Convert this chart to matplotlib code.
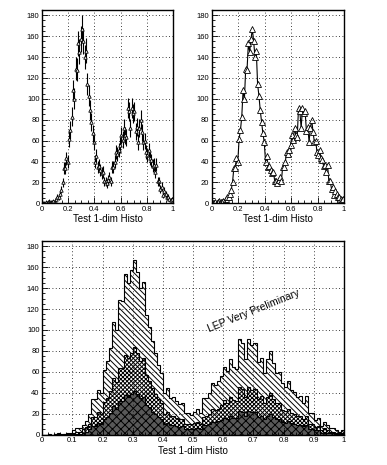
import numpy as np
import matplotlib
matplotlib.use("Agg")
import matplotlib.pyplot as plt
from matplotlib.ticker import MultipleLocator

plt.rcParams["font.family"] = ["Liberation Sans", "DejaVu Sans"]
plt.rcParams["hatch.linewidth"] = 0.7

# Bin edges of the 1-dim histogram (100 bins between 0 and 1)
edges = np.linspace(0.0, 1.0, 101)
centers = 0.5 * (edges[:-1] + edges[1:])

# Bin contents
counts = [
    0, 0, 1, 0, 1, 2, 1, 1, 2, 2,
    4, 6, 6, 9, 13, 20, 34, 34, 43, 40,
    62, 70, 83, 108, 100, 129, 128, 153, 145, 157,
    167, 155, 140, 146, 114, 103, 89, 78, 67, 59,
    40, 45, 35, 36, 32, 29, 30, 21, 21, 19,
    22, 25, 21, 35, 35, 40, 49, 47, 51, 56,
    65, 61, 72, 65, 63, 91, 88, 72, 91, 86,
    88, 69, 73, 59, 72, 80, 68, 59, 60, 49,
    46, 51, 43, 41, 36, 37, 30, 37, 21, 21,
    14, 16, 8, 12, 9, 6, 6, 4, 3, 4,
]

# second (cross-hatched) layer of the lower pad
counts_mid = [
    0, 0, 0, 0, 1, 1, 0, 1, 1, 1,
    2, 3, 3, 5, 7, 10, 17, 17, 22, 20,
    31, 35, 42, 54, 50, 64, 64, 76, 73, 78,
    84, 78, 70, 73, 57, 51, 45, 39, 34, 30,
    20, 22, 18, 18, 16, 15, 15, 10, 10, 10,
    11, 12, 10, 17, 18, 20, 25, 24, 25, 28,
    33, 30, 36, 33, 32, 46, 44, 36, 46, 43,
    44, 34, 37, 30, 36, 40, 34, 30, 30, 24,
    23, 25, 21, 20, 18, 18, 15, 18, 10, 10,
    7, 8, 4, 6, 4, 3, 3, 2, 2, 2,
]

# darkest layer
counts_low = [
    0, 0, 0, 0, 0, 0, 0, 0, 0, 0,
    1, 1, 1, 2, 3, 5, 8, 8, 11, 10,
    15, 17, 21, 27, 25, 32, 32, 38, 36, 39,
    42, 39, 35, 36, 28, 26, 22, 20, 17, 15,
    10, 11, 9, 9, 8, 7, 8, 5, 5, 5,
    5, 6, 5, 9, 9, 10, 12, 12, 13, 14,
    16, 15, 18, 16, 16, 23, 22, 18, 23, 22,
    22, 17, 18, 15, 18, 20, 17, 15, 15, 12,
    11, 13, 11, 10, 9, 9, 8, 9, 5, 5,
    4, 4, 2, 3, 2, 2, 2, 1, 1, 1,
]

counts = np.array(counts, dtype=float)
errors = np.sqrt(counts)
xlabel = "Test 1-dim Histo"
ymax = 185


def style_axes(ax, xmajor, xminor):
    ax.set_xlim(0, 1)
    ax.set_ylim(0, ymax)
    ax.xaxis.set_major_locator(MultipleLocator(xmajor))
    ax.xaxis.set_minor_locator(MultipleLocator(xminor))
    ax.yaxis.set_major_locator(MultipleLocator(20))
    ax.yaxis.set_minor_locator(MultipleLocator(5))
    ax.tick_params(which="both", direction="in", labelsize=5.5, pad=2,
                   width=0.6, top=False, right=False)
    ax.tick_params(which="major", length=4)
    ax.tick_params(which="minor", length=2)
    ax.xaxis.set_major_formatter(lambda v, p: f"{v:g}")
    ax.grid(True, which="major", color="black", linestyle=(0, (1, 3)),
            linewidth=0.6)
    ax.set_axisbelow(False)
    for s in ax.spines.values():
        s.set_linewidth(1.0)
    ax.set_xlabel(xlabel, fontsize=7, labelpad=1)


fig = plt.figure(figsize=(3.87, 4.65), dpi=100)

# top left: error bars
ax1 = fig.add_axes([0.1093, 0.5628, 0.337, 0.4157])
ax1.errorbar(centers, counts, yerr=errors, fmt="^", ms=2.5, mfc="white",
             mec="black", mew=0.6, ecolor="black", elinewidth=0.8,
             capsize=0)
style_axes(ax1, 0.2, 0.05)

# top right: polyline with triangle markers
ax2 = fig.add_axes([0.548, 0.5628, 0.341, 0.4157])
ax2.plot(centers, counts, color="black", linewidth=0.8, marker="^",
         ms=4, mfc="white", mec="black", mew=0.6)
style_axes(ax2, 0.2, 0.05)

# bottom: superimposed hatched histograms
ax3 = fig.add_axes([0.1093, 0.0652, 0.7796, 0.4166])
ax3.stairs(counts, edges, fill=True, facecolor="white", edgecolor="black",
           hatch="\\\\\\\\\\\\", linewidth=0.8)
ax3.stairs(counts_mid, edges, fill=True, facecolor="white",
           edgecolor="black", hatch="xxxxxxxx", linewidth=0.8)
ax3.stairs(counts_low, edges, fill=True, facecolor="0.35",
           edgecolor="black", hatch="xxxx", linewidth=0.8)
style_axes(ax3, 0.1, 0.02)
ax3.text(0.70, 118, "LEP Very Preliminary", rotation=22, fontsize=7.5,
         ha="center", va="center")

fig.savefig("out.png", dpi=100)
